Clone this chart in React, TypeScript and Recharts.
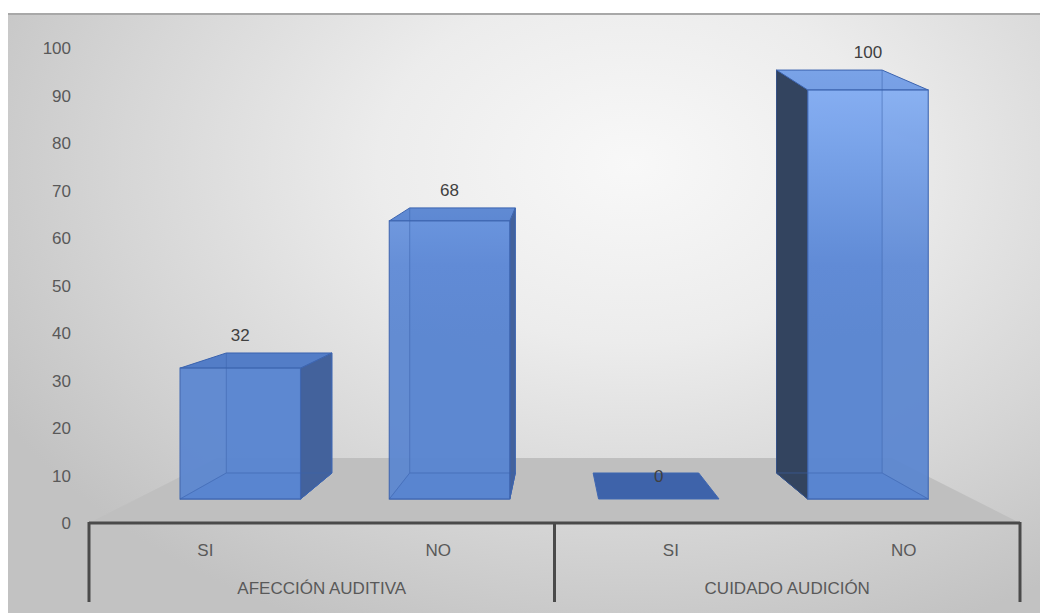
import React from "react";
import { ComposedChart, Bar, Line, XAxis, YAxis, ReferenceArea } from "recharts";

// ---- data ----
const categories = ["SI", "NO", "SI", "NO"];
const groups = ["AFECCIÓN AUDITIVA", "CUIDADO AUDICIÓN"];
const values = [32, 68, 0, 100];
const yTicks = [0, 10, 20, 30, 40, 50, 60, 70, 80, 90, 100];

const data = categories.map((c, i) => ({ id: `c${i}`, cat: c, value: values[i] }));

// ---- layout ----
const W = 1040;
const H = 598;
const MARGIN = { top: 33, right: 28, bottom: 10, left: 21 };
const Y_AXIS_W = 60;
const X_AXIS_H = 80;
const PLOT_LEFT = MARGIN.left + Y_AXIS_W;
const PLOT_W = W - PLOT_LEFT - MARGIN.right;
const VX = PLOT_LEFT + PLOT_W / 2;
const FRONT_K = 0.899;
const BACK_K = 0.788;
const FLOOR_K = 0.724;
const DEPTH = 26;
const FONT = "'Liberation Sans', Arial, sans-serif";
const TXT = "#595959";

const Floor = (props: any) => {
  const { x, y, width, height } = props;
  const cx = x + width / 2;
  const bl = cx + (x - cx) * FLOOR_K;
  const br = cx + (x + width - cx) * FLOOR_K;
  const pts = `${x},${y + height} ${x + width},${y + height} ${br},${y} ${bl},${y}`;
  return <polygon points={pts} fill="#bfbfbf" />;
};

const Box = (props: any) => {
  const { x, y, width, height, index, payload } = props;
  const v = payload ? payload.value : 0;
  const cx = x + width / 2;
  const fcx = VX + (cx - VX) * FRONT_K;
  const fw = width * FRONT_K;
  const fl = fcx - fw / 2;
  const fr = fcx + fw / 2;
  const fb = y + height;
  const ft = y;
  const bcx = VX + (cx - VX) * BACK_K;
  const bw = width * BACK_K;
  const bl = bcx - bw / 2;
  const br = bcx + bw / 2;
  const bb = fb - DEPTH;
  const bh = height * (0.885 + 0.000245 * height);
  const bt = bb - bh;
  const gid = `grad${index}`;
  const edge = "#3f67b2";
  const flat = height < 1;
  const labelY = flat ? bt + 9 : bt - 12;
  return (
    <g>
      <defs>
        <linearGradient id={gid} x1="0" y1="40" x2="0" y2="320" gradientUnits="userSpaceOnUse">
          <stop offset="0" stopColor="#8ab4f8" />
          <stop offset="0.75" stopColor="#5d89d6" />
          <stop offset="1" stopColor="#5a86d1" />
        </linearGradient>
      </defs>
      {!flat && (
        <rect x={bl} y={bt} width={bw} height={bh} fill={`url(#${gid})`} opacity={0.6} />
      )}
      <polygon
        points={`${fl},${fb} ${fr},${fb} ${br},${bb} ${bl},${bb}`}
        fill={flat ? "#3e63aa" : "#4f7bc8"}
        stroke={edge}
        strokeWidth={1}
      />
      {!flat && br > fr && (
        <polygon points={`${fr},${ft} ${br},${bt} ${br},${bb} ${fr},${fb}`} fill="#43629c" stroke={edge} strokeWidth={1} />
      )}
      {!flat && bl < fl && (
        <polygon points={`${fl},${ft} ${bl},${bt} ${bl},${bb} ${fl},${fb}`} fill="#33445f" stroke="#2c3c58" strokeWidth={1} />
      )}
      {!flat && (
        <polygon points={`${fl},${ft} ${fr},${ft} ${br},${bt} ${bl},${bt}`} fill={`url(#${gid})`} stroke={edge} strokeWidth={1} />
      )}
      {!flat && (
        <polygon points={`${fl},${ft} ${fr},${ft} ${br},${bt} ${bl},${bt}`} fill="#1f3f80" opacity={0.12} />
      )}
      {!flat && (
        <rect x={fl} y={ft} width={fw} height={height} fill={`url(#${gid})`} opacity={0.93} stroke={edge} strokeWidth={1.2} />
      )}
      {!flat && (
        <g stroke="#3d64ad" strokeWidth={1} opacity={0.55} fill="none">
          <line x1={bl} y1={bt} x2={bl} y2={bb} />
          <line x1={br} y1={bt} x2={br} y2={bb} />
          <line x1={bl} y1={bb} x2={br} y2={bb} />
          <line x1={fl} y1={fb} x2={bl} y2={bb} />
          <line x1={fr} y1={fb} x2={br} y2={bb} />
        </g>
      )}
      <text x={fcx} y={labelY} textAnchor="middle" fontFamily={FONT} fontSize={17} fill="#404040">
        {v}
      </text>
    </g>
  );
};

const XTick = (props: any) => {
  const { x, y, index } = props;
  const band = PLOT_W / categories.length;
  const last = categories.length - 1;
  return (
    <g>
      <text x={x} y={y + 33} textAnchor="middle" fontFamily={FONT} fontSize={17} fill={TXT}>
        {categories[index]}
      </text>
      {index % 2 === 0 && (
        <text x={x + band / 2} y={y + 71} textAnchor="middle" fontFamily={FONT} fontSize={17} fill={TXT}>
          {groups[index / 2]}
        </text>
      )}
      {index % 2 === 0 && (
        <line x1={x - band / 2} y1={y - 1} x2={x - band / 2} y2={y + 79} stroke="#4a4a4a" strokeWidth={3} />
      )}
      {index === last && (
        <line x1={x + band / 2} y1={y - 1} x2={x + band / 2} y2={y + 79} stroke="#4a4a4a" strokeWidth={3} />
      )}
    </g>
  );
};

export default function App() {
  return (
    <div
      style={{
        position: "relative",
        width: W,
        height: H,
        marginTop: 5,
        borderTop: "2px solid #a8a8a8",
        background:
          "radial-gradient(ellipse 70% 85% at 60% 25%, #f8f8f8 0%, #ececec 35%, #d6d6d6 70%, #c2c2c2 100%)",
      }}
    >
      <ComposedChart width={W} height={H} data={data} margin={MARGIN}>
        <XAxis
          dataKey="id"
          height={X_AXIS_H}
          tickSize={0}
          tickMargin={0}
          interval={0}
          axisLine={{ stroke: "#4a4a4a", strokeWidth: 3 }}
          tickLine={false}
          tick={<XTick />}
        />
        <YAxis yAxisId="b" hide width={0} domain={[-5.87, 110.27]} />
        <YAxis
          yAxisId="t"
          width={Y_AXIS_W}
          domain={[0, 100]}
          ticks={yTicks}
          axisLine={false}
          tickLine={false}
          tickMargin={12}
          tick={{ fill: TXT, fontSize: 17, fontFamily: FONT }}
        />
        <ReferenceArea yAxisId="t" y1={0} y2={13.7} ifOverflow="visible" shape={<Floor />} />
        <Line
          yAxisId="t"
          dataKey="value"
          stroke="none"
          dot={false}
          activeDot={false}
          legendType="none"
          isAnimationActive={false}
        />
        <Bar
          yAxisId="b"
          dataKey="value"
          barSize={134}
          isAnimationActive={false}
          shape={<Box />}
        />
      </ComposedChart>
    </div>
  );
}
